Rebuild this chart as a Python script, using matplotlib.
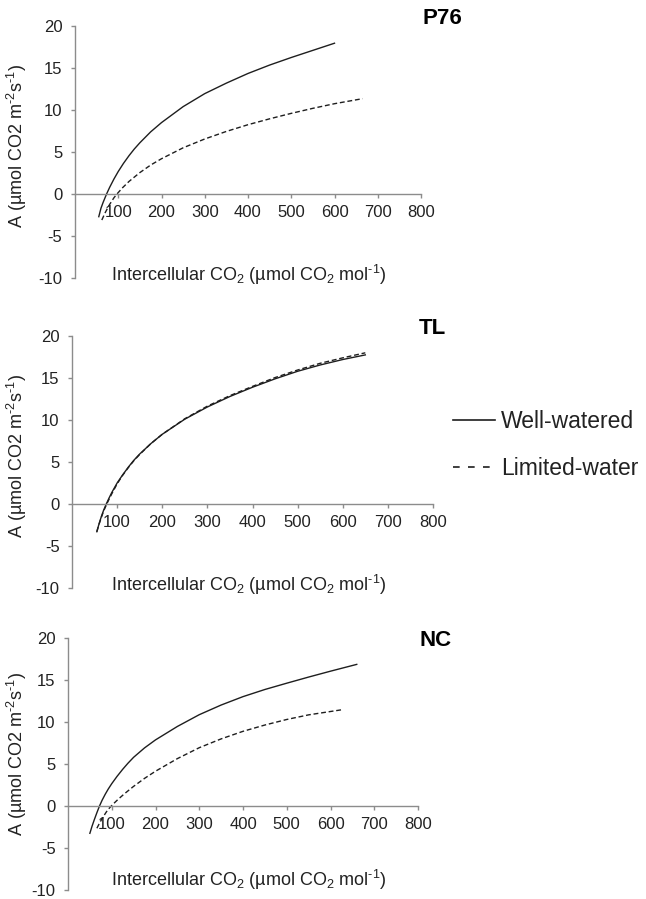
import matplotlib
matplotlib.use("Agg")
import matplotlib.pyplot as plt
from matplotlib.lines import Line2D

plt.rcParams.update({
    "font.family": ["Liberation Sans", "DejaVu Sans"],
    "mathtext.fontset": "custom",
    "mathtext.rm": "Liberation Sans",
    "mathtext.it": "Liberation Sans:italic",
    "mathtext.bf": "Liberation Sans:bold",
    "axes.unicode_minus": False,
})

# ---- data (Ci in umol/mol, A in umol m-2 s-1) ----
p76_ww_ci = [55, 60, 65, 73, 80, 90, 100, 112, 125, 137, 150, 175, 200, 250, 300, 350, 400, 450, 500, 550, 600]
p76_ww_a = [-2.7, -1.7, -1.0, 0.0, 0.78, 1.78, 2.68, 3.64, 4.57, 5.35, 6.1, 7.4, 8.5, 10.4, 11.95, 13.2, 14.35, 15.35, 16.25, 17.1, 17.95]
p76_lw_ci = [62, 70, 80, 90, 97, 110, 125, 150, 175, 200, 250, 300, 350, 400, 450, 500, 550, 600, 665]
p76_lw_a = [-3.1, -2.2, -1.25, -0.45, 0.0, 0.75, 1.5, 2.55, 3.45, 4.2, 5.5, 6.55, 7.45, 8.25, 8.95, 9.6, 10.2, 10.75, 11.35]

tl_ww_ci = [55, 60, 65, 70, 76, 82, 88, 100, 112, 125, 137, 150, 175, 200, 250, 300, 350, 400, 450, 500, 550, 600, 650]
tl_ww_a = [-3.3, -2.35, -1.5, -0.75, 0.0, 0.7, 1.35, 2.5, 3.45, 4.4, 5.2, 5.95, 7.2, 8.3, 10.1, 11.55, 12.8, 13.9, 14.9, 15.8, 16.55, 17.2, 17.75]
tl_lw_ci = [55, 60, 65, 70, 77, 82, 88, 100, 112, 125, 137, 150, 175, 200, 250, 300, 350, 400, 450, 500, 550, 600, 650]
tl_lw_a = [-3.3, -2.4, -1.6, -0.85, 0.0, 0.55, 1.2, 2.4, 3.4, 4.35, 5.15, 5.9, 7.2, 8.3, 10.15, 11.65, 12.9, 14.0, 15.05, 15.95, 16.75, 17.4, 18.0]

nc_ww_ci = [50, 55, 60, 66, 72, 78, 85, 92, 100, 112, 125, 137, 150, 175, 200, 250, 300, 350, 400, 450, 500, 550, 600, 660]
nc_ww_a = [-3.25, -2.4, -1.65, -0.8, 0.0, 0.69, 1.39, 2.02, 2.66, 3.52, 4.37, 5.09, 5.8, 6.92, 7.87, 9.47, 10.87, 12.02, 13.02, 13.87, 14.62, 15.35, 16.05, 16.86]
nc_lw_ci = [66, 73, 80, 88, 95, 103, 115, 130, 150, 175, 200, 250, 300, 350, 400, 450, 500, 550, 625]
nc_lw_a = [-2.65, -1.95, -1.32, -0.68, -0.22, 0.22, 0.82, 1.5, 2.34, 3.29, 4.14, 5.64, 6.94, 7.99, 8.89, 9.64, 10.3, 10.85, 11.45]

panels = [
    ("P76", p76_ww_ci, p76_ww_a, p76_lw_ci, p76_lw_a),
    ("TL", tl_ww_ci, tl_ww_a, tl_lw_ci, tl_lw_a),
    ("NC", nc_ww_ci, nc_ww_a, nc_lw_ci, nc_lw_a),
]
x_ticks = [100, 200, 300, 400, 500, 600, 700, 800]
y_ticks = [-10, -5, 0, 5, 10, 15, 20]

# layout in pixels: (left, right, top, bottom), title pos, xlabel y, ylabel y
W, H = 646, 899
boxes = [(75, 421, 26, 278), (72, 433, 336, 588), (68, 418, 638, 890)]
titles_xy = [(422, 18.5), (419, 328), (419, 640)]
xlab_y = [275, 585, 880]
ylab_y = [146, 456, 754]

axis_grey = "#8c8c8c"
line_col = "#1e1e1e"
text_col = "#222222"

fig = plt.figure(figsize=(W / 100, H / 100), dpi=100)

for i, (name, ww_x, ww_y, lw_x, lw_y) in enumerate(panels):
    l, r, t, b = boxes[i]
    ax = fig.add_axes([l / W, 1 - b / H, (r - l) / W, (b - t) / H])
    ax.set_xlim(0, 800)
    ax.set_ylim(-10, 20)
    ax.plot(ww_x, ww_y, color=line_col, lw=1.0, label="Well-watered")
    ax.plot(lw_x, lw_y, color=line_col, lw=1.0, dashes=(3.5, 2), label="Limited-water")

    for s in ["top", "right"]:
        ax.spines[s].set_visible(False)
    ax.spines["bottom"].set_position(("data", 0))
    for s in ["left", "bottom"]:
        ax.spines[s].set_color(axis_grey)
        ax.spines[s].set_linewidth(1.0)
    ax.set_xticks(x_ticks)
    ax.set_yticks(y_ticks)
    ax.tick_params(axis="both", colors=axis_grey, labelcolor=text_col,
                   labelsize=12, length=3, width=1.0, direction="out")
    ax.tick_params(axis="x", pad=5)
    ax.tick_params(axis="y", pad=6)
    ax.patch.set_visible(False)

    fig.text(titles_xy[i][0] / W, 1 - titles_xy[i][1] / H, name,
             fontsize=16, fontweight="bold", ha="left", va="center", color="black")
    fig.text(249 / W, 1 - xlab_y[i] / H,
             r"Intercellular CO$_2$ (µmol CO$_2$ mol$^{\text{-1}}$)",
             fontsize=13, ha="center", va="center", color=text_col)
    fig.text(17 / W, 1 - ylab_y[i] / H,
             r"A (µmol CO2 m$^{\text{-2}}$s$^{\text{-1}}$)",
             fontsize=13, ha="center", va="center", rotation=90, color=text_col)

handles = [
    Line2D([], [], color=line_col, lw=1.2),
    Line2D([], [], color=line_col, lw=1.2, dashes=(4, 5)),
]
fig.legend(handles, ["Well-watered", "Limited-water"], loc="center left",
           bbox_to_anchor=(432 / W, 1 - 445 / H), frameon=False, fontsize=16.5,
           handlelength=1.85, handletextpad=0.25, labelspacing=1.05, labelcolor=text_col)

fig.savefig("out.png", dpi=100)
